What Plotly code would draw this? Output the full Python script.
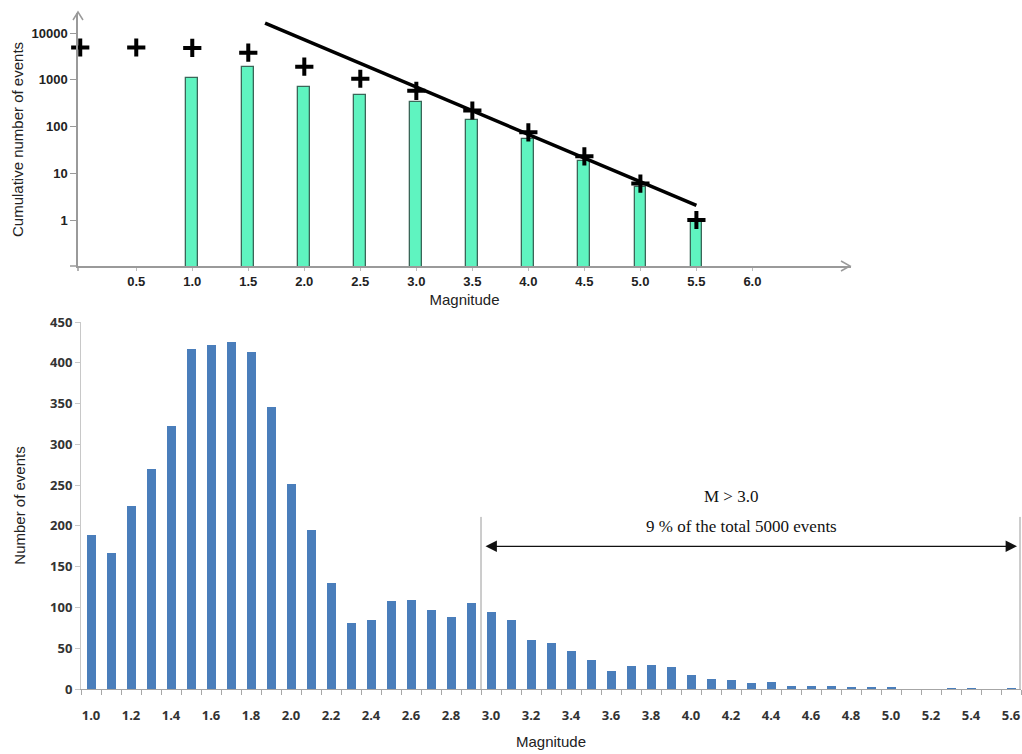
import plotly.graph_objects as go

# ---------------- data: top (cumulative, log scale) ----------------
top_bar_mag = [1.0, 1.5, 2.0, 2.5, 3.0, 3.5, 4.0, 4.5, 5.0, 5.5]
top_bar_cnt = [1100, 1900, 700, 480, 340, 140, 55, 18, 5, 1]
cum_mag = [0.0, 0.5, 1.0, 1.5, 2.0, 2.5, 3.0, 3.5, 4.0, 4.5, 5.0, 5.5]
cum_cnt = [4900, 4900, 4800, 3800, 1900, 1050, 580, 220, 75, 23, 6, 1]
fit_mag = [1.65, 5.5]
fit_cnt = [16300, 2.05]
top_xticks = [0.5, 1.0, 1.5, 2.0, 2.5, 3.0, 3.5, 4.0, 4.5, 5.0, 5.5, 6.0]
top_xlabels = ["0.5", "1.0", "1.5", "2.0", "2.5", "3.0", "3.5", "4.0", "4.5", "5.0", "5.5", "6.0"]
top_yticks = [1, 10, 100, 1000, 10000]
top_ylabels = ["1", "10", "100", "1000", "10000"]

# ---------------- data: bottom (histogram) ----------------
mags = [round(1.0 + 0.1 * i, 1) for i in range(47)]
counts = [189, 167, 225, 270, 323, 417, 422, 425, 413, 346,
          251, 195, 130, 81, 85, 108, 109, 97, 88, 106,
          95, 84, 60, 56, 46, 36, 22, 28, 29, 27,
          17, 12, 11, 7, 8, 4, 4, 4, 2, 3,
          3, 0, 0, 1, 1, 0, 1]
bot_xticks = [round(1.0 + 0.2 * i, 1) for i in range(24)]
bot_xlabels = ["%.1f" % v for v in bot_xticks]
bot_yticks = [0, 50, 100, 150, 200, 250, 300, 350, 400, 450]

W, H = 1022, 754
def px(x):
    return x / W
def py(y):
    return 1 - y / H

fig = go.Figure()

# top bars
fig.add_trace(go.Bar(x=top_bar_mag, y=top_bar_cnt, width=0.105,
                     marker=dict(color="#5FF4C0", line=dict(color="#3A6658", width=1.3)),
                     xaxis="x", yaxis="y", showlegend=False))
# fit line
fig.add_trace(go.Scatter(x=fit_mag, y=fit_cnt, mode="lines",
                         line=dict(color="black", width=3.5),
                         xaxis="x", yaxis="y", showlegend=False))
# cumulative crosses
fig.add_trace(go.Scatter(x=cum_mag, y=cum_cnt, mode="markers",
                         marker=dict(symbol="cross-thin", size=13, line=dict(color="black", width=4)),
                         xaxis="x", yaxis="y", showlegend=False, cliponaxis=False))

# bottom bars
fig.add_trace(go.Bar(x=mags, y=counts, width=0.045,
                     marker=dict(color="#4A7EBB", line=dict(width=0)),
                     xaxis="x2", yaxis="y2", showlegend=False))

tick_font_top = dict(family="Liberation Sans", size=13, color="#222222", weight="bold")
tick_font_bot = dict(family="Open Sans", size=13, color="#333333", weight="bold")
title_font = dict(family="Liberation Sans", size=15, color="#222222")

fig.update_layout(
    width=W, height=H,
    margin=dict(l=0, r=0, t=0, b=0),
    paper_bgcolor="white", plot_bgcolor="white",
    bargap=0,
    xaxis=dict(domain=[px(78), px(851)], range=[-0.02, 6.88], automargin=False,
               tickvals=top_xticks, ticktext=top_xlabels,
               tickfont=tick_font_top, showgrid=False, zeroline=False,
               showline=True, linecolor="#9A9A9A", linewidth=1.5,
               ticks="outside", ticklen=3, tickcolor="#BBBBBB",
               anchor="y",
               title=dict(text="Magnitude", font=title_font, standoff=6)),
    yaxis=dict(domain=[py(266), py(13)], type="log", range=[-0.984, 4.428], automargin=False,
               tickvals=top_yticks, ticktext=top_ylabels,
               tickfont=tick_font_top, showgrid=False, zeroline=False,
               showline=True, linecolor="#9A9A9A", linewidth=1.5,
               ticks="outside", ticklen=6, tickcolor="#9A9A9A",
               anchor="x",
               title=dict(text="Cumulative number of events", font=title_font, standoff=4)),
    xaxis2=dict(domain=[px(81), px(1021)], range=[0.95, 5.65], automargin=False,
                tickvals=bot_xticks, ticktext=bot_xlabels,
                tickfont=tick_font_bot, showgrid=False, zeroline=False,
                showline=True, linecolor="#A6A6A6", linewidth=1,
                ticks="", anchor="y2", ticklabelstandoff=14,
                minor=dict(ticks="outside", tick0=0.95, dtick=0.1, ticklen=5, tickcolor="#A6A6A6", showgrid=False),
                title=dict(text="Magnitude", font=title_font, standoff=13)),
    yaxis2=dict(domain=[py(689), py(322)], range=[0, 450], automargin=False,
                tickvals=bot_yticks, tickfont=tick_font_bot,
                showgrid=False, zeroline=False,
                showline=True, linecolor="#C8C8C8", linewidth=1,
                ticks="outside", ticklen=5, tickcolor="#C8C8C8",
                anchor="x2",
                title=dict(text="Number of events", font=title_font, standoff=20)),
)

shapes = []
# top axes small extensions and open chevrons
shapes.append(dict(type="line", xref="paper", yref="paper", x0=px(78), x1=px(78), y0=py(266), y1=py(271),
                   line=dict(color="#9A9A9A", width=1.5)))
shapes.append(dict(type="line", xref="paper", yref="paper", x0=px(70), x1=px(78), y0=py(266), y1=py(266),
                   line=dict(color="#9A9A9A", width=1.5)))
shapes.append(dict(type="path", xref="paper", yref="paper",
                   path="M %f %f L %f %f L %f %f" % (px(73), py(20), px(78), py(12), px(83), py(20)),
                   line=dict(color="#9A9A9A", width=1.5)))
shapes.append(dict(type="path", xref="paper", yref="paper",
                   path="M %f %f L %f %f L %f %f" % (px(841), py(261), px(850), py(266), px(841), py(271)),
                   line=dict(color="#9A9A9A", width=1.5)))
# bottom vertical guide lines
shapes.append(dict(type="line", xref="x2", yref="y2", x0=2.95, x1=2.95, y0=0, y1=211,
                   line=dict(color="#9A9A9A", width=1)))
shapes.append(dict(type="line", xref="x2", yref="y2", x0=5.645, x1=5.645, y0=0, y1=211,
                   line=dict(color="#9A9A9A", width=1)))
fig.update_layout(shapes=shapes)

serif = dict(family="Liberation Serif", size=17, color="#111111")
fig.add_annotation(x=5.63, y=175, ax=2.965, ay=175, xref="x2", yref="y2", axref="x2", ayref="y2",
                   showarrow=True, arrowhead=2, arrowside="end+start", arrowsize=1.9,
                   arrowwidth=1.2, arrowcolor="#111111", text="")
fig.add_annotation(x=4.2, y=236, xref="x2", yref="y2", text="M > 3.0", showarrow=False, font=serif)
fig.add_annotation(x=4.25, y=199, xref="x2", yref="y2", text="9 % of the total 5000 events",
                   showarrow=False, font=serif)

fig.write_html("out.html", config={"displayModeBar": False},
               post_script="document.body.style.margin='0';document.body.style.overflow='hidden';")
